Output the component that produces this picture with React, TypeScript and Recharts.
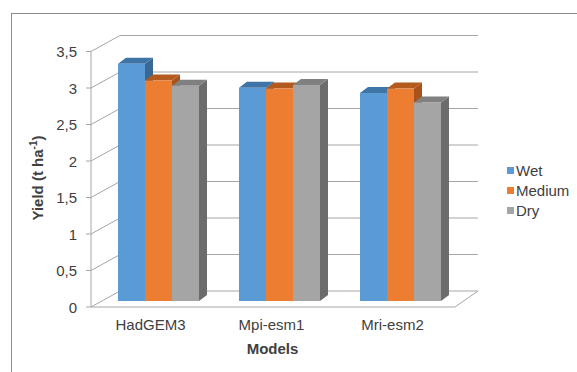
import { Bar, BarChart, CartesianGrid, XAxis, YAxis } from "recharts";

const CATEGORIES = ["HadGEM3", "Mpi-esm1", "Mri-esm2"];
const WET = [3.25, 2.92, 2.85];
const MEDIUM = [3.02, 2.91, 2.91];
const DRY = [2.95, 2.96, 2.72];
const Y_TICKS = [0, 0.5, 1, 1.5, 2, 2.5, 3, 3.5];

const SERIES = [
  { key: "wet", name: "Wet", front: "#5B9BD5", top: "#3E74A6", side: "#3A6894" },
  { key: "medium", name: "Medium", front: "#ED7D31", top: "#B35A1F", side: "#A9531C" },
  { key: "dry", name: "Dry", front: "#A5A5A5", top: "#808080", side: "#6C6C6C" },
];

const data = CATEGORIES.map((name, i) => ({ name, wet: WET[i], medium: MEDIUM[i], dry: DRY[i] }));

const FONT = '"Liberation Sans", Arial, sans-serif';
const TEXT = "#404040";
const GRID = "#A6A6A6";

const W = 577;
const H = 372;
const PLOT_LEFT = 98;
const PLOT_TOP = 45.5;
const PLOT_BOTTOM = 301;
const PLOT_RIGHT = 461;

// 3d offsets relative to the bar plane
const FRONT_X = 91;
const FRONT_DY = 6;
const BACK_X = 120;
const BACK_DY = -10;
const BACK_RIGHT = 478;
const FLOOR_FRONT_RIGHT = 455;
const DEPTH_X = 8;
const DEPTH_Y = 6;

function WallLine(props: any) {
  const y = props.y1;
  const yb = y + BACK_DY;
  const yf = y + FRONT_DY;
  const isFloor = Math.abs(y - PLOT_BOTTOM) < 0.5;
  return (
    <g>
      <line x1={FRONT_X} y1={yf} x2={BACK_X} y2={yb} stroke={GRID} strokeWidth={1} />
      <line x1={BACK_X} y1={yb} x2={BACK_RIGHT} y2={yb} stroke={GRID} strokeWidth={1} />
      {isFloor && (
        <>
          <line x1={FRONT_X} y1={yf} x2={FLOOR_FRONT_RIGHT} y2={yf} stroke={GRID} strokeWidth={1} />
          <line x1={FLOOR_FRONT_RIGHT} y1={yf} x2={BACK_RIGHT} y2={yb} stroke={GRID} strokeWidth={1} />
          <line x1={FRONT_X} y1={yf} x2={FRONT_X} y2={PLOT_TOP + FRONT_DY} stroke={GRID} strokeWidth={1} />
        </>
      )}
    </g>
  );
}

function YTick(props: any) {
  const yf = props.y + FRONT_DY;
  return (
    <g>
      <line x1={FRONT_X - 5} y1={yf} x2={FRONT_X} y2={yf} stroke={GRID} strokeWidth={1} />
      <text x={77} y={yf} textAnchor="end" dominantBaseline="central" fontSize={15} fontFamily={FONT} fill={TEXT}>
        {String(props.payload.value).replace(".", ",")}
      </text>
    </g>
  );
}

function XTick(props: any) {
  return (
    <text x={props.x - 8} y={330} textAnchor="middle" fontSize={15} fontFamily={FONT} fill={TEXT}>
      {props.payload.value}
    </text>
  );
}

function make3dBar(s: (typeof SERIES)[number]) {
  return (props: any) => {
    const { x, y, width: w, height: h } = props;
    if (h == null || w == null) return null;
    return (
      <g>
        <polygon
          points={`${x + w},${y} ${x + w + DEPTH_X},${y - DEPTH_Y} ${x + w + DEPTH_X},${y + h - DEPTH_Y} ${x + w},${y + h}`}
          fill={s.side}
        />
        <polygon
          points={`${x},${y} ${x + DEPTH_X},${y - DEPTH_Y} ${x + w + DEPTH_X},${y - DEPTH_Y} ${x + w},${y}`}
          fill={s.top}
        />
        <rect x={x} y={y} width={w} height={h} fill={s.front} />
      </g>
    );
  };
}

export default function App() {
  return (
    <div style={{ position: "absolute", left: 0, top: 0, width: W, height: H, overflow: "hidden", background: "#fff" }}>
      <div
        style={{
          position: "absolute",
          left: 11,
          top: 13,
          width: W,
          height: H,
          borderTop: "1px solid #8C8C8C",
          borderLeft: "1px solid #8C8C8C",
        }}
      />
      <div style={{ position: "absolute", left: 0, top: 0 }}>
        <BarChart
          width={W}
          height={H}
          data={data}
          barSize={27}
          barGap={0}
          margin={{ top: PLOT_TOP, right: W - PLOT_RIGHT, bottom: H - PLOT_BOTTOM - 30, left: PLOT_LEFT - 60 }}
        >
          <CartesianGrid vertical={false} horizontal={(p: any) => <WallLine key={p.key ?? p.y1} {...p} />} />
          <XAxis
            dataKey="name"
            height={30}
            axisLine={false}
            tickLine={false}
            tick={<XTick />}
            interval={0}
            label={{
              content: () => (
                <text x={272.5} y={354} textAnchor="middle" fontSize={15} fontWeight="bold" fontFamily={FONT} fill={TEXT}>
                  Models
                </text>
              ),
            }}
          />
          <YAxis
            width={60}
            domain={[0, 3.5]}
            ticks={Y_TICKS}
            axisLine={false}
            tickLine={false}
            tick={<YTick />}
            label={{
              content: () => (
                <text
                  transform="translate(43,178) rotate(-90)"
                  textAnchor="middle"
                  fontSize={15}
                  fontWeight="bold"
                  fontFamily={FONT}
                  fill={TEXT}
                >
                  Yield (t ha
                  <tspan fontSize={10} dy={-6}>
                    -1
                  </tspan>
                  <tspan fontSize={15} dy={6}>
                    )
                  </tspan>
                </text>
              ),
            }}
          />
          {SERIES.map((s) => (
            <Bar key={s.key} dataKey={s.key} name={s.name} fill={s.front} isAnimationActive={false} shape={make3dBar(s)} />
          ))}
        </BarChart>
      </div>
      {SERIES.map((s, i) => (
        <div
          key={s.key}
          style={{
            position: "absolute",
            left: 507,
            top: 160 + i * 20.3,
            height: 20,
            display: "flex",
            alignItems: "center",
            fontFamily: FONT,
            fontSize: 15,
            color: TEXT,
            whiteSpace: "nowrap",
          }}
        >
          <span style={{ width: 7, height: 7, background: s.front, marginRight: 2, display: "inline-block" }} />
          {s.name}
        </div>
      ))}
    </div>
  );
}
